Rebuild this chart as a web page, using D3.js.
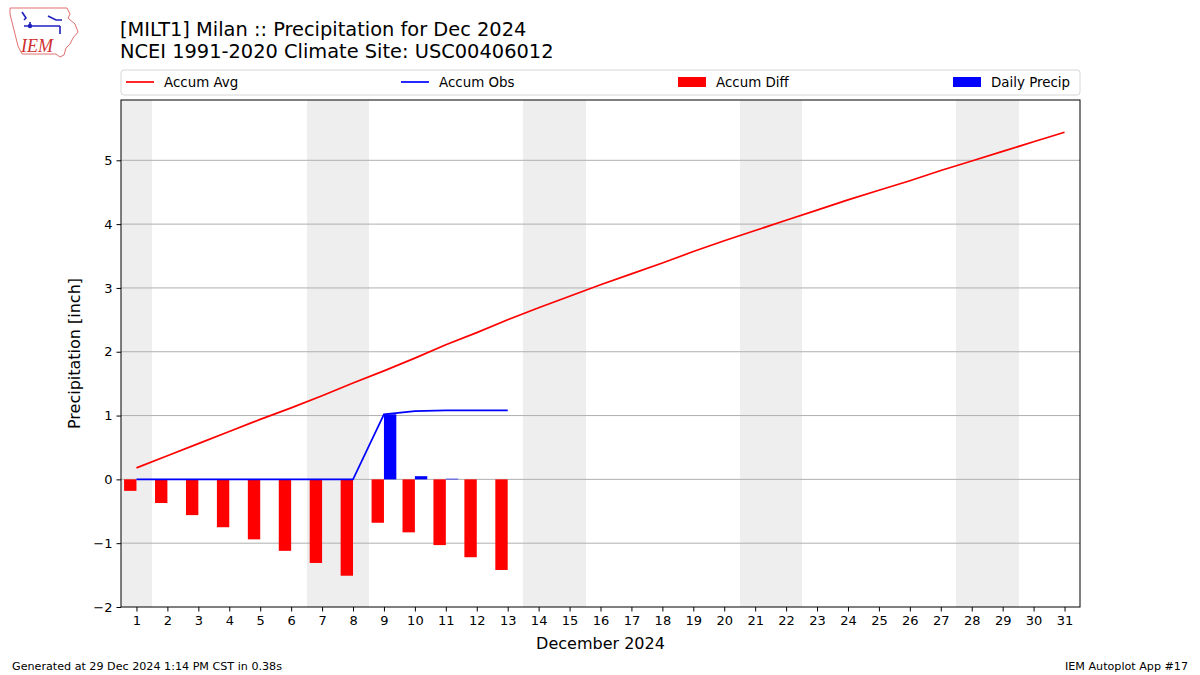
<!DOCTYPE html>
<html><head><meta charset="utf-8">
<script src="https://cdn.jsdelivr.net/npm/d3@7"></script>
<style>
body{margin:0;background:#fff;}
svg{font-family:"DejaVu Sans",sans-serif;}
</style></head><body>
<svg id="c" width="1200" height="675"></svg>
<script>
const days = d3.range(1, 32);
const accumAvg = [0.18,0.37,0.56,0.75,0.94,1.12,1.31,1.51,1.70,1.90,2.11,2.30,2.50,2.69,2.87,3.05,3.22,3.39,3.57,3.74,3.90,4.06,4.22,4.38,4.53,4.68,4.84,4.99,5.14,5.29,5.44];
const obsDays = d3.range(1, 14);
const dailyPrecip = [0,0,0,0,0,0,0,0,1.02,0.05,0.01,0,0];
const accumObs = [0,0,0,0,0,0,0,0,1.02,1.07,1.08,1.08,1.08];
const accumDiff = [-0.18,-0.37,-0.56,-0.75,-0.94,-1.12,-1.31,-1.51,-0.68,-0.83,-1.03,-1.22,-1.42];
const weekendDays = [1,7,8,14,15,21,22,28,29];
const yTicks = [-2,-1,0,1,2,3,4,5];
const titleLines = ["[MILT1] Milan :: Precipitation for Dec 2024","NCEI 1991-2020 Climate Site: USC00406012"];
const legendItems = [{label:"Accum Avg",type:"line",color:"red"},{label:"Accum Obs",type:"line",color:"blue"},{label:"Accum Diff",type:"patch",color:"red"},{label:"Daily Precip",type:"patch",color:"blue"}];

const svg = d3.select("#c");
const L=121, R=1080, T=100, B=607;
const x = d3.scaleLinear().domain([0.5,31.5]).range([L,R]);
const y = d3.scaleLinear().domain([-2,5.945]).range([B,T]);

// weekend shading
svg.append("g").attr("shape-rendering","crispEdges").selectAll("rect").data(weekendDays).join("rect")
  .attr("x", d=>x(d-0.5)).attr("width", d=>x(d+0.5)-x(d-0.5)+0.5)
  .attr("y", T).attr("height", B-T).attr("fill","#eeeeee");

// gridlines
svg.append("g").selectAll("line").data(yTicks.filter(d=>d>-2)).join("line")
  .attr("x1",L).attr("x2",R).attr("y1",d=>y(d)).attr("y2",d=>y(d))
  .attr("stroke","#b0b0b0").attr("stroke-width",1);

// diff bars [day-0.4, day]
svg.append("g").selectAll("rect").data(obsDays).join("rect")
  .attr("x", (d,i)=>x(d-0.4)).attr("width", x(1)-x(0.6))
  .attr("y", (d,i)=>Math.min(y(0),y(accumDiff[i])))
  .attr("height", (d,i)=>Math.abs(y(accumDiff[i])-y(0)))
  .attr("fill","red");
// daily precip bars [day, day+0.4]
svg.append("g").selectAll("rect").data(obsDays).join("rect")
  .attr("x", d=>x(d)).attr("width", x(1.4)-x(1))
  .attr("y", (d,i)=>y(dailyPrecip[i]))
  .attr("height", (d,i)=>y(0)-y(dailyPrecip[i]))
  .attr("fill","blue");

const line = d3.line().x(d=>x(d[0])).y(d=>y(d[1]));
svg.append("path").attr("d", line(days.map((d,i)=>[d,accumAvg[i]])))
  .attr("fill","none").attr("stroke","red").attr("stroke-width",1.7);
svg.append("path").attr("d", line(obsDays.map((d,i)=>[d,accumObs[i]])))
  .attr("fill","none").attr("stroke","blue").attr("stroke-width",1.7);

// frame
svg.append("rect").attr("x",L).attr("y",T).attr("width",R-L).attr("height",B-T)
  .attr("fill","none").attr("stroke","#000").attr("stroke-width",1);

// axes
const xa = svg.append("g").attr("transform",`translate(0,${B})`)
  .call(d3.axisBottom(x).tickValues(days).tickFormat(d3.format("d")).tickSizeOuter(0).tickSize(4.5).tickPadding(4));
xa.select(".domain").remove();
xa.selectAll("text").attr("font-size",13).attr("fill","#000").attr("font-family","DejaVu Sans");
const ya = svg.append("g").attr("transform",`translate(${L},0)`)
  .call(d3.axisLeft(y).tickValues(yTicks).tickFormat(d3.format("d")).tickSizeOuter(0).tickSize(4.5).tickPadding(4));
ya.select(".domain").remove();
ya.selectAll("text").attr("font-size",13).attr("fill","#000").attr("font-family","DejaVu Sans");

svg.append("text").attr("x",(L+R)/2).attr("y",649).attr("text-anchor","middle")
  .attr("font-size",16).text("December 2024");
svg.append("text").attr("transform",`translate(80,${(T+B)/2}) rotate(-90)`).attr("text-anchor","middle")
  .attr("font-size",16).text("Precipitation [inch]");

// title
svg.selectAll("text.title").data(titleLines).join("text").attr("class","title")
  .attr("x",120).attr("y",(d,i)=>36+i*21.5).attr("font-size",19.4).text(d=>d);

// legend
svg.append("rect").attr("x",L).attr("y",70).attr("width",R-L).attr("height",25)
  .attr("rx",3).attr("fill","#fff").attr("stroke","#d6d6d6");
const legX = [126,401,678,953];
const lg = svg.append("g").selectAll("g").data(legendItems).join("g")
  .attr("transform",(d,i)=>`translate(${legX[i]},82)`);
lg.each(function(d){
  const g=d3.select(this);
  if(d.type==="line") g.append("line").attr("x1",0).attr("x2",28).attr("y1",0).attr("y2",0).attr("stroke",d.color).attr("stroke-width",1.7);
  else g.append("rect").attr("x",0).attr("y",-5).attr("width",28).attr("height",10).attr("fill",d.color);
  g.append("text").attr("x",38).attr("y",4.5).attr("font-size",13.4).text(d.label);
});

// footer
svg.append("text").attr("x",12).attr("y",670).attr("font-size",11)
  .attr("textLength",270).attr("lengthAdjust","spacingAndGlyphs")
  .text("Generated at 29 Dec 2024 1:14 PM CST in 0.38s");
svg.append("text").attr("x",1188).attr("y",670).attr("font-size",11).attr("text-anchor","end")
  .attr("textLength",123).attr("lengthAdjust","spacingAndGlyphs")
  .text("IEM Autoplot App #17");

// logo
const logo = svg.append("g");
logo.append("path").attr("d","M10,8 L67,8 L70,14 L68,18 L75,24 L78,32 L73,38 L70,44 L66,48 L64,55 L60,57 L56,54 L22,54 L20,50 L18,46 L16,38 L14,30 L12,22 L10,14 Z")
  .attr("fill","#fff").attr("stroke","#e07070").attr("stroke-width",1);
logo.append("path").attr("d","M24,26 L60,26 M30,26 L30,22 M60,26 L60,34 M48,16 L56,20 L62,20 M22,12 L26,18 L24,20")
  .attr("fill","none").attr("stroke","#2020c0").attr("stroke-width",1.6);
logo.append("circle").attr("cx",30).attr("cy",26).attr("r",2.2).attr("fill","#2020c0");
logo.append("text").attr("x",21).attr("y",52).attr("font-family","'Liberation Serif',serif").attr("font-style","italic")
  .attr("font-size",18).attr("fill","#d03030").text("IEM");
</script>
</body></html>
